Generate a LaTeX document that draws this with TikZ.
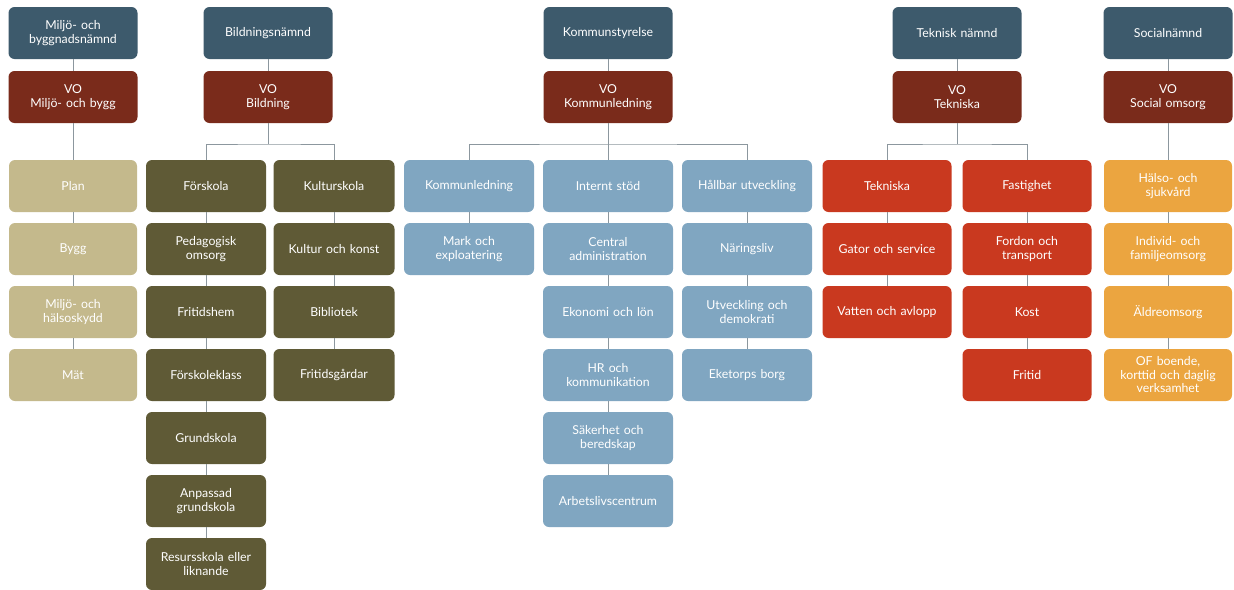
\documentclass[tikz,border=0pt]{standalone}
\usepackage{fontspec}
\setmainfont{Lato}
\definecolor{topc}{HTML}{3D5A6C}
\definecolor{voc}{HTML}{7A2B1B}
\definecolor{khaki}{HTML}{C4B98C}
\definecolor{olive}{HTML}{5F5A36}
\definecolor{bluec}{HTML}{80A6C1}
\definecolor{redc}{HTML}{C9391F}
\definecolor{orangec}{HTML}{EBA540}
\definecolor{linec}{HTML}{8C979E}
\begin{document}
\begin{tikzpicture}[x=1pt,y=-1pt,
  box/.style={rounded corners=6pt, minimum height=52pt, inner xsep=3pt, inner ysep=1pt,
    text width=114pt, text=white, align=center, font=\fontsize{12.3}{13.5}\selectfont},
  tb/.style={box, fill=topc, minimum width=129pt},
  vo/.style={box, fill=voc, minimum width=129pt},
  kh/.style={box, fill=khaki, minimum width=128pt},
  ol/.style={box, fill=olive, minimum width=119pt},
  bl/.style={box, fill=bluec, minimum width=130pt},
  rd/.style={box, fill=redc, minimum width=129pt},
  orr/.style={box, fill=orangec, minimum width=128pt},
  conn/.style={draw=linec, line width=0.8pt}]
\fill[white] (0,0) rectangle (1234,589);
\useasboundingbox (0,0) rectangle (1234,589);

% Miljo column
\node[tb] (atop) at (73,33) {Miljö- och\\byggnadsnämnd};
\node[vo] (avo) at (73,97) {VO\\Miljö- och bygg};
\node[kh] (a1) at (73,186) {Plan};
\node[kh] (a2) at (73,249) {Bygg};
\node[kh] (a3) at (73,312) {Miljö- och\\hälsoskydd};
\node[kh] (a4) at (73,375) {Mät};

% Bildning
\node[tb] (btop) at (268,33) {Bildningsnämnd};
\node[vo] (bvo) at (268,97) {VO\\Bildning};
\node[ol] (b1) at (206,186) {Förskola};
\node[ol] (b2) at (206,249) {Pedagogisk\\omsorg};
\node[ol] (b3) at (206,312) {Fritidshem};
\node[ol] (b4) at (206,375) {Förskoleklass};
\node[ol] (b5) at (206,438) {Grundskola};
\node[ol] (b6) at (206,501) {Anpassad\\grundskola};
\node[ol] (b7) at (206,564) {Resursskola eller\\liknande};
\node[ol, minimum width=121pt] (k1) at (334,186) {Kulturskola};
\node[ol, minimum width=121pt] (k2) at (334,249) {Kultur och konst};
\node[ol, minimum width=121pt] (k3) at (334,312) {Bibliotek};
\node[ol, minimum width=121pt] (k4) at (334,375) {Fritidsgårdar};

% Kommun
\node[tb] (ctop) at (608,33) {Kommunstyrelse};
\node[vo] (cvo) at (608,97) {VO\\Kommunledning};
\node[bl] (c1) at (469,186) {Kommunledning};
\node[bl] (c2) at (469,249) {Mark och\\exploatering};
\node[bl] (d1) at (608,186) {Internt stöd};
\node[bl] (d2) at (608,249) {Central\\administration};
\node[bl] (d3) at (608,312) {Ekonomi och lön};
\node[bl] (d4) at (608,375) {HR och\\kommunikation};
\node[bl] (d5) at (608,438) {Säkerhet och\\beredskap};
\node[bl] (d6) at (608,501) {Arbetslivscentrum};
\node[bl] (e1) at (747,186) {Hållbar utveckling};
\node[bl] (e2) at (747,249) {Näringsliv};
\node[bl] (e3) at (747,312) {Utveckling och\\demokrati};
\node[bl] (e4) at (747,375) {Eketorps borg};

% Teknisk
\node[tb] (ttop) at (957,33) {Teknisk nämnd};
\node[vo] (tvo) at (957,97) {VO\\Tekniska};
\node[rd] (t1) at (887,186) {Tekniska};
\node[rd] (t2) at (887,249) {Gator och service};
\node[rd] (t3) at (887,312) {Vatten och avlopp};
\node[rd] (f1) at (1027,186) {Fastighet};
\node[rd] (f2) at (1027,249) {Fordon och\\transport};
\node[rd] (f3) at (1027,312) {Kost};
\node[rd] (f4) at (1027,375) {Fritid};

% Social
\node[tb] (stop) at (1168,33) {Socialnämnd};
\node[vo] (svo) at (1168,97) {VO\\Social omsorg};
\node[orr] (s1) at (1168,186) {Hälso- och\\sjukvård};
\node[orr] (s2) at (1168,249) {Individ- och\\familjeomsorg};
\node[orr] (s3) at (1168,312) {Äldreomsorg};
\node[orr] (s4) at (1168,375) {OF boende,\\korttid och daglig\\verksamhet};

% junction coordinates
\coordinate (bj) at (268,144);
\coordinate (cj) at (608,144);
\coordinate (tj) at (957,144);

\path[conn] (atop) -- (avo) (avo) -- (a1) (a1) -- (a2) (a2) -- (a3) (a3) -- (a4);
\path[conn] (btop) -- (bvo) (bvo) -- (bj) (b1.north) |- (bj) -| (k1.north);
\path[conn] (b1) -- (b2) (b2) -- (b3) (b3) -- (b4) (b4) -- (b5) (b5) -- (b6) (b6) -- (b7);
\path[conn] (k1) -- (k2) (k2) -- (k3) (k3) -- (k4);
\path[conn] (ctop) -- (cvo) (cvo) -- (cj) (c1.north) |- (cj) -| (e1.north) (cj) -- (d1);
\path[conn] (c1) -- (c2);
\path[conn] (d1) -- (d2) (d2) -- (d3) (d3) -- (d4) (d4) -- (d5) (d5) -- (d6);
\path[conn] (e1) -- (e2) (e2) -- (e3) (e3) -- (e4);
\path[conn] (ttop) -- (tvo) (tvo) -- (tj) (t1.north) |- (tj) -| (f1.north);
\path[conn] (t1) -- (t2) (t2) -- (t3);
\path[conn] (f1) -- (f2) (f2) -- (f3) (f3) -- (f4);
\path[conn] (stop) -- (svo) (svo) -- (s1) (s1) -- (s2) (s2) -- (s3) (s3) -- (s4);
\end{tikzpicture}
\end{document}
